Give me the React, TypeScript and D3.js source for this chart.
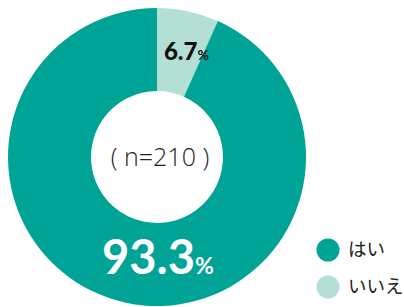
import * as d3 from "d3";

const categories = ["はい", "いいえ"];
const values = [93.3, 6.7];
const colors = ["#00a496", "#b4dfd4"];
const sampleLabel = "( n=210 )";

const width = 404;
const height = 307;
const cx = 157;
const cy = 157;
const outerR = 149;
const innerR = 66;

const App = () => {
  // small slice ("いいえ") starts at 12 o'clock and runs clockwise
  const pie = d3
    .pie<number>()
    .sort(null)
    .value((d) => d)
    .startAngle(0)
    .endAngle(2 * Math.PI);
  const order = [1, 0];
  const arcs = pie(order.map((i) => values[i]));
  const arc = d3.arc<d3.PieArcDatum<number>>().innerRadius(innerR).outerRadius(outerR);
  const color = d3.scaleOrdinal<number, string>().domain([0, 1]).range(colors);

  const small = arcs[0];
  const [sx, sy] = arc.centroid(small);
  const midR = (innerR + outerR) / 2;

  return (
    <svg width={width} height={height} style={{ position: "absolute", left: 0, top: 0 }}>
      <g transform={`translate(${cx},${cy})`}>
        {arcs.map((a, k) => (
          <path key={k} d={arc(a) || ""} fill={color(order[k])} />
        ))}
        <text
          x={sx + 7}
          y={sy + 8}
          textAnchor="middle"
          fontFamily="Lato, sans-serif"
          fontWeight={900}
          fill="#111"
        >
          <tspan fontSize={24}>{values[1]}</tspan>
          <tspan fontSize={14} fontWeight={700}>%</tspan>
        </text>
        <text
          x={1}
          y={midR + 9}
          textAnchor="middle"
          fontFamily="Lato, sans-serif"
          fontWeight={700}
          fill="#fff"
        >
          <tspan fontSize={47}>{values[0]}</tspan>
          <tspan fontSize={23}>%</tspan>
        </text>
        <text
          x={3}
          y={9}
          textAnchor="middle"
          fontFamily="'Open Sans', sans-serif"
          fontWeight={300}
          fontSize={25}
          fill="#222"
        >
          {sampleLabel}
        </text>
      </g>
      {categories.map((c, i) => (
        <g key={c} transform={`translate(328,${250 + i * 37})`}>
          <circle r={11.5} fill={colors[i]} />
          <text
            x={20}
            dy="0.35em"
            fontFamily="'Noto Sans CJK JP', sans-serif"
            fontSize={18.5}
            fill="#222"
          >
            {c}
          </text>
        </g>
      ))}
    </svg>
  );
};

export default App;
